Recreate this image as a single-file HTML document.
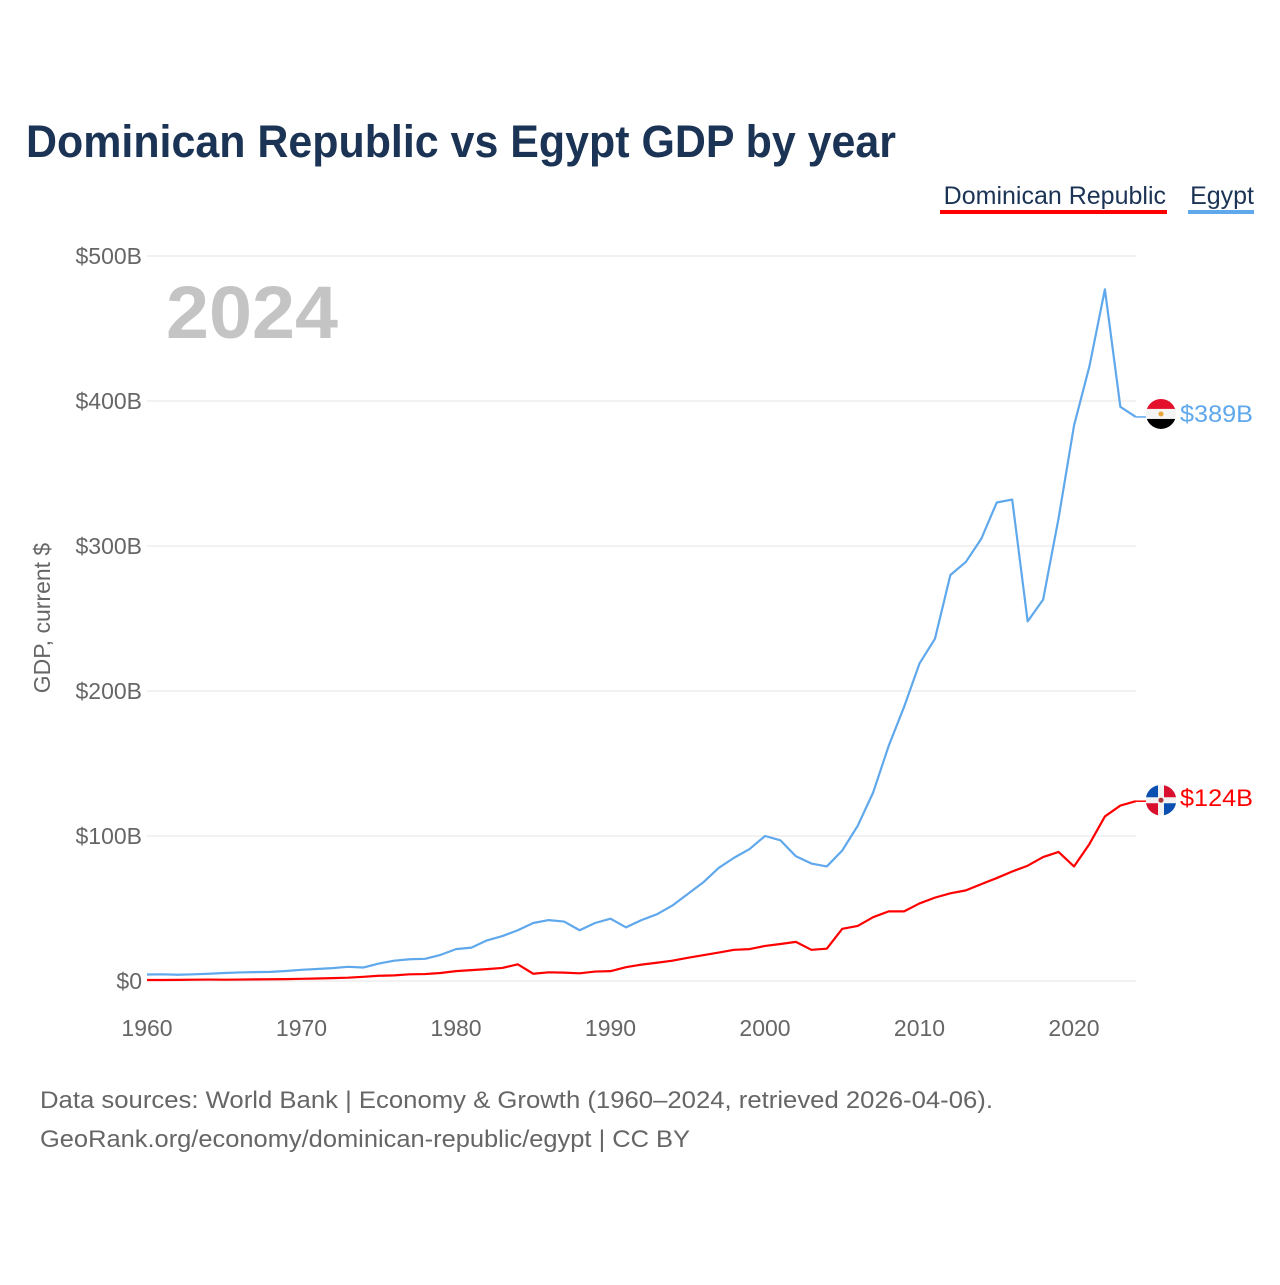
<!DOCTYPE html>
<html><head><meta charset="utf-8"><style>
body{margin:0;background:#fff;font-family:"Liberation Sans",sans-serif}
svg text{font-family:"Liberation Sans",sans-serif}
</style></head><body>
<svg width="1280" height="1280">
<text x="26" y="157" font-size="45" font-weight="bold" fill="#1b3354" textLength="870" lengthAdjust="spacingAndGlyphs">Dominican Republic vs Egypt GDP by year</text>
<g>
<text x="1166" y="204" font-size="25" fill="#1b3354" text-anchor="end">Dominican Republic</text>
<rect x="940" y="210" width="227" height="4" fill="#ff0000"/>
<text x="1254" y="204" font-size="25" fill="#1b3354" text-anchor="end">Egypt</text>
<rect x="1188" y="210" width="66" height="4" fill="#5fa8ec"/>
</g>
<text x="50" y="618" font-size="23" fill="#666" text-anchor="middle" transform="rotate(-90 50 618)">GDP, current $</text>
<text x="166" y="338" font-size="74" font-weight="bold" fill="#c4c4c4" textLength="172" lengthAdjust="spacingAndGlyphs">2024</text>
<g id="grid"></g><g id="xt"></g><g id="lines"></g>
<text x="40" y="1108" font-size="24" fill="#666" textLength="953" lengthAdjust="spacingAndGlyphs">Data sources: World Bank | Economy &amp; Growth (1960–2024, retrieved 2026-04-06).</text>
<text x="40" y="1147" font-size="24" fill="#666" textLength="650" lengthAdjust="spacingAndGlyphs">GeoRank.org/economy/dominican-republic/egypt | CC BY</text>
</svg>
<script>
const years=[];for(let y=1960;y<=2024;y++)years.push(y);
const egypt=[4.5,4.6,4.3,4.6,5,5.5,5.9,6.1,6.3,6.9,7.7,8.3,8.9,9.8,9.3,12,14,15,15.3,18,22,23,28,31,35,40,42,41,35,40,43,37,42,46,52,60,68,78,85,91,100,97,86,81,79,90,107,130,162,189,219,236,280,289,305,330,332,248,263,319,383,424,477,396,389];
const dr=[0.7,0.7,0.8,0.9,1.0,0.9,1.0,1.1,1.2,1.3,1.5,1.7,2.0,2.3,2.9,3.6,3.9,4.6,4.8,5.5,6.8,7.5,8.2,9.0,11.5,5.0,6.0,5.8,5.3,6.5,6.8,9.5,11.3,12.6,14,16,17.8,19.6,21.5,22,24.2,25.5,27,21.5,22.3,36,38,44,48,48,53.5,57.5,60.5,62.5,66.8,71,75.5,79.5,85.5,89,79,94.5,113.5,121,124];
const yTicks=[0,100,200,300,400,500];
const yTickLabels=["$0","$100B","$200B","$300B","$400B","$500B"];
const xTicks=[1960,1970,1980,1990,2000,2010,2020];
const NS="http://www.w3.org/2000/svg";
const X=y=>147+(y-1960)*(1074-147)/60;
const Y=v=>981-v*(981-256)/500;
function mk(t,a,p){const e=document.createElementNS(NS,t);for(const k in a)e.setAttribute(k,a[k]);p.appendChild(e);return e;}
const grid=document.getElementById('grid');
yTicks.forEach((v,i)=>{
 const l=mk('line',{x1:147,x2:1136,y1:Y(v),y2:Y(v),stroke:'#e6e6e6','stroke-width':1},grid);
 
 
 const t=mk('text',{x:142,y:Y(v)+8,'font-size':23,fill:'#666','text-anchor':'end'},grid);
 t.textContent=yTickLabels[i];
 
 
});
const xt=document.getElementById('xt');
xTicks.forEach(v=>{
 const t=mk('text',{x:X(v),y:1036,'font-size':23,fill:'#666','text-anchor':'middle'},xt);
 t.textContent=v;
 
 
});
const lines=document.getElementById('lines');
function series(d,c,name){
 const p=mk('polyline',{points:d.map((v,i)=>X(years[i])+','+Y(v)).join(' '),fill:'none',stroke:c,'stroke-width':2.2,'stroke-linejoin':'round'},lines);
 
 
 const last=d[d.length-1],ly=Y(last);
 mk('line',{x1:X(2024),x2:1146,y1:ly,y2:ly,stroke:c,'stroke-width':1.5},lines);
 const t=mk('text',{x:1180,y:ly+5,'font-size':24,fill:c,textLength:73,lengthAdjust:'spacingAndGlyphs'},lines);
 t.textContent='$'+Math.round(last)+'B';
 
 
 return ly;
}
const ey=series(egypt,'#5fa8ec','egypt');
const dy=series(dr,'#ff0000','dominican-republic');
const fe=mk('g',{},lines);


const ecy=ey-3;
const cp=mk('clipPath',{id:'ce'},fe);
mk('circle',{cx:1161,cy:ecy,r:15},cp);
mk('rect',{x:1146,y:ecy-15,width:30,height:10,fill:'#e3112b','clip-path':'url(#ce)'},fe);
mk('rect',{x:1146,y:ecy-5,width:30,height:10,fill:'#f4f4f4','clip-path':'url(#ce)'},fe);
mk('rect',{x:1146,y:ecy+5,width:30,height:11,fill:'#000','clip-path':'url(#ce)'},fe);
mk('circle',{cx:1161,cy:ecy,r:2.5,fill:'#e8a33a'},fe);
const fd=mk('g',{},lines);


const cy=dy-1;
mk('circle',{cx:1161,cy:cy,r:15,fill:'#f2f2f2'},fd);
mk('path',{d:`M1161 ${cy} m-3 -3 h-12 a15 15 0 0 1 12 -12 z`,fill:'#0b4fb0'},fd);
mk('path',{d:`M1161 ${cy} m3 -3 v-12 a15 15 0 0 1 12 12 z`,fill:'#d8102e'},fd);
mk('path',{d:`M1161 ${cy} m-3 3 v12 a15 15 0 0 1 -12 -12 z`,fill:'#d8102e'},fd);
mk('path',{d:`M1161 ${cy} m3 3 h12 a15 15 0 0 1 -12 12 z`,fill:'#0b4fb0'},fd);
mk('circle',{cx:1161,cy:cy,r:2.5,fill:'#a33'},fd);
</script>
</body></html>
